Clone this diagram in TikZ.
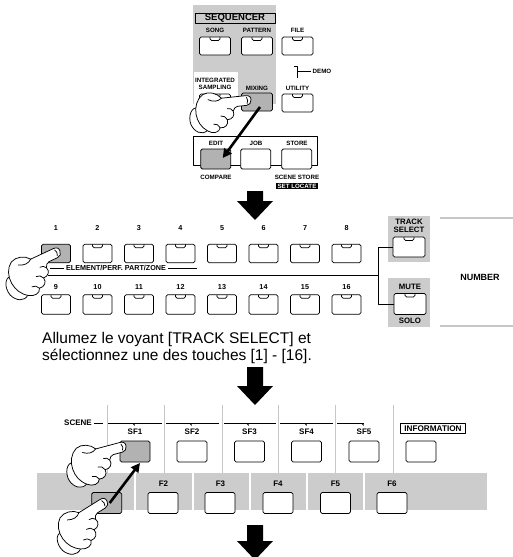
\documentclass[tikz,border=0pt]{standalone}
\usepackage{fontspec}
\setmainfont{Liberation Sans}
\usetikzlibrary{arrows.meta}
\definecolor{panel}{gray}{0.80}
\definecolor{pressed}{gray}{0.70}
\definecolor{rulegray}{gray}{0.78}

\tikzset{
  lbl/.style={font=\bfseries\fontsize{6.2}{7.5}\selectfont, inner sep=0pt, align=center},
  lblm/.style={font=\bfseries\fontsize{7.2}{8}\selectfont, inner sep=0pt, align=center},
  lblb/.style={font=\bfseries\fontsize{8}{8.5}\selectfont, inner sep=0pt, align=center},
  btn/.style={draw, line width=0.8pt, fill=white, rounded corners=1.6pt,
    minimum width=30pt, minimum height=20pt, inner sep=0pt},
  notch/.style={path picture={\draw[line width=0.6pt]
    ([xshift=-5pt]path picture bounding box.north) -- ++(0,-3.5pt) -- ++(10pt,0) -- ++(0,3.5pt);}},
  lit/.style={fill=pressed, path picture={\fill
    ([xshift=-6pt]path picture bounding box.north) rectangle
    ([xshift=6pt,yshift=-4.5pt]path picture bounding box.north);}},
  wire/.style={line width=0.6pt},
  drag/.style={line width=2.6pt, -{Triangle[length=9pt,width=9pt]}},
  handline/.style={line width=0.75pt, line join=round, line cap=round},
  sep/.style={rulegray, line width=1pt},
  hand/.pic={
    % cuff at the wrist
    \draw[handline, fill=white]
      (-44,2) .. controls (-49,0) and (-53,8) .. (-51,15)
      .. controls (-49,21) and (-43,25) .. (-38,21) -- cycle;
    % hand with pointing index finger
    \draw[handline, fill=white]
      (0,0) .. controls (0.4,-2.8) and (-1.5,-4) .. (-4,-4)
      -- (-24,-4)
      .. controls (-27,-8.5) and (-34,-11) .. (-39,-8.5)
      .. controls (-44,-5.5) and (-46.5,1) .. (-46,7)
      .. controls (-45.5,13) and (-43,18) .. (-38,21.5)
      .. controls (-34,24.5) and (-28.5,24) .. (-27.5,20)
      .. controls (-23.5,21) and (-20,18) .. (-21,14)
      .. controls (-17,14.5) and (-14,11) .. (-15.5,7.5)
      .. controls (-14.5,5.5) and (-13.5,4) .. (-11.5,4)
      -- (-4,4)
      .. controls (-1.5,4) and (-0.3,2.3) .. (0,0) -- cycle;
    % thumb and finger creases
    \draw[handline] (-24,-4) .. controls (-27,-1.5) and (-31,-1.5) .. (-35,-4);
    \draw[handline] (-27.5,20) .. controls (-28.5,17.5) and (-30,16.5) .. (-32.5,16.5);
    \draw[handline] (-21,14) .. controls (-22,11.5) and (-23.5,10.5) .. (-26,10.5);
    \draw[handline] (-15.5,7.5) .. controls (-16.5,5.5) and (-18,5) .. (-20,5);
    \draw[handline] (-3.5,-2.5) .. controls (-2.5,-1) and (-2.5,1) .. (-3.5,2.5);
  }
}

\begin{document}
\begin{tikzpicture}[x=1pt,y=-1pt,line join=round]
\useasboundingbox (0,0) rectangle (513,557);
\clip (0,0) rectangle (513,557);

% ---------- sequencer block ----------
\fill[panel] (193,5) rectangle (276,104);
\fill[white] (194,72) rectangle (238,106);
\node[draw, line width=0.7pt, minimum width=80pt, minimum height=10pt, inner sep=0pt,
      font=\bfseries\fontsize{9.5}{10}\selectfont] (seq) at (235,18) {SEQUENCER};

\node[lbl] (lsong) at (215,30) {SONG};
\node[lbl] (lpattern) at (257,30) {PATTERN};
\node[lbl] (lfile) at (297.5,30) {FILE};
\node[btn, notch, minimum width=31pt, minimum height=18pt] (song) at (215,46) {};
\node[btn, notch, minimum width=31pt, minimum height=18pt] (pattern) at (257,46) {};
\node[btn, notch, minimum width=31pt, minimum height=18pt] (file) at (297.5,46) {};

\node[lbl] (linteg) at (215,84) {INTEGRATED\\SAMPLING};
\node[lbl] (lmixing) at (257,88) {MIXING};
\node[lbl] (lutility) at (297.5,88) {UTILITY};
\node[btn, notch, minimum width=31pt, minimum height=18pt] (integ) at (215,103) {};
\node[btn, lit, minimum width=31pt, minimum height=18pt] (mixing) at (257,102) {};
\node[btn, notch, minimum width=31pt, minimum height=18pt] (utility) at (297.5,103) {};

\node[lbl] (ldemo) at (322,71) {DEMO};
\coordinate (demoj) at (297,71);
\draw[wire] (294,66) -- (297,66) -- (297,78);
\draw[wire] (demoj) -- ([xshift=-2pt]ldemo.west);

% ---------- edit / job / store ----------
\draw[line width=0.7pt] (193,136) rectangle (317,165);
\node[lbl] (ledit) at (216,143) {EDIT};
\node[lbl] (ljob) at (256,143) {JOB};
\node[lbl] (lstore) at (297,143) {STORE};
\node[btn, lit] (edit) at (215.7,159) {};
\node[btn] (job) at (255.7,159) {};
\node[btn] (store) at (296.7,159) {};
\node[lbl] (lcompare) at (216,177) {COMPARE};
\node[lbl] (lscstore) at (297,177) {SCENE STORE};
\node[lbl, fill=black, text=white, inner xsep=1.5pt, inner ysep=1.2pt] (lsetloc) at (297,186) {SET LOCATE};

% ---------- track buttons ----------
\node[lblm] (n1) at (56,228) {1};
\node[btn, lit, minimum width=29pt, minimum height=18.5pt] (k1) at (56,253.5) {};
\foreach \i in {2,...,8}{
  \pgfmathsetmacro\bx{56+(\i-1)*41.5}
  \node[lblm] (n\i) at (\bx,228) {\i};
  \node[btn, notch, minimum width=29pt, minimum height=18.5pt] (k\i) at (\bx,253.5) {};
}
\foreach \i in {9,...,16}{
  \pgfmathsetmacro\bx{56+(\i-9)*41.5}
  \node[lblm] (n\i) at (\bx,287) {\i};
  \node[btn, notch, minimum width=29pt, minimum height=19.5pt] (k\i) at (\bx,304.5) {};
}

\node[lblm] (lelem) at (116,268) {ELEMENT/PERF. PART/ZONE};
\draw[wire] ([xshift=-2pt]lelem.west) -- (50,268);
\draw[wire] ([xshift=2pt]lelem.east) -- (197,268);

% track select / mute
\fill[panel] (388,216) rectangle (430,262);
\fill[panel] (388,278) rectangle (430,327);
\node[lblb, font=\bfseries\fontsize{7.8}{8.2}\selectfont] (ltrack) at (409,226) {TRACK\\SELECT};
\node[btn, notch, minimum width=32pt, minimum height=20pt] (tsel) at (409,247) {};
\node[lblb, font=\bfseries\fontsize{7.8}{8.2}\selectfont] (lmute) at (410,287) {MUTE};
\node[btn, notch, minimum width=32pt, minimum height=21pt] (mute) at (410,304) {};
\node[lblb, font=\bfseries\fontsize{7.8}{8.2}\selectfont] (lsolo) at (410,321) {SOLO};

\coordinate (busL) at (48,275);
\coordinate (busR) at (378,275);
\draw[wire] (tsel.west) -- (378,247) |- (mute.west);
\draw[wire] (busL) -- (busR);

\node[lblb, font=\bfseries\fontsize{9}{9}\selectfont] (lnumber) at (480,277) {NUMBER};
\draw[rulegray, line width=2pt] (440,218) -- (513,218);
\draw[rulegray, line width=2pt] (440,326) -- (513,326);

\node[anchor=base west, inner sep=0pt, align=left, font=\fontsize{15.5}{17}\selectfont] (note) at (42,360)
  {Allumez le voyant [TRACK SELECT] et\\s\'electionnez une des touches [1] - [16].};

% ---------- scene / function buttons ----------
\foreach \x in {107,164,222,278,335,393} \draw[sep] (\x,405) -- (\x,473);
\node[lblb] (lscene) at (78,423) {SCENE};
\draw[line width=0.8pt] ([xshift=2pt]lscene.east) -- (103,423);
\foreach \a/\b/\t in {108/162/134, 166/219/191, 224/276/248, 280/333/306, 337/364/363}{
  \draw[line width=0.8pt] (\a,423) -- (\b,423);
  \fill (\t-1.8,423) -- (\t+0.6,423) -- (\t+0.6,426) -- cycle;
}
\foreach \i/\x in {1/135,2/192,3/249.5,4/306.5,5/364}{
  \node[lblb] (lsf\i) at (\x,432) {SF\i};
}
\node[btn, fill=pressed, minimum height=21pt] (sf1) at (135,451.5) {};
\foreach \i/\x in {2/192,3/249.5,4/306.5,5/364}{
  \node[btn, minimum height=21pt] (sf\i) at (\x,451.5) {};
}
\node[lblb, draw, line width=0.7pt, inner xsep=4pt, inner ysep=1.8pt,
      font=\bfseries\fontsize{8.2}{8.5}\selectfont] (linfo) at (433,428.5) {INFORMATION};
\node[btn, minimum height=21pt] (info) at (421,451.5) {};

\fill[panel] (37,473) rectangle (487,510);
\foreach \x in {135,193,250,307,364} \draw[white, line width=1.5pt] (\x,473) -- (\x,510);
\foreach \i/\x in {2/163.5,3/220.5,4/278,5/335.5,6/392}{
  \node[lblb] (lf\i) at (\x,484) {F\i};
}
\node[btn, fill=pressed, minimum height=21pt] (f1) at (106.7,503) {};
\foreach \i/\x in {2/163,3/220,4/278,5/335.5,6/392}{
  \node[btn, minimum height=21pt] (f\i) at (\x,503) {};
}

% ---------- hands ----------
\pic[rotate=6, scale=1.22] at (251,100) {hand};
\pic[rotate=25, scale=1.25] at (60,251) {hand};
\pic[rotate=15, scale=1.25] at (126,446) {hand};
\pic[rotate=32, scale=1.25] at (107,501) {hand};

% ---------- press arrows ----------
\draw[drag] ([xshift=3pt,yshift=-5pt]mixing.center) -- ([xshift=7pt,yshift=1pt]edit.center);
\draw[drag] ([xshift=3pt,yshift=0pt]f1.center) -- ([xshift=5pt,yshift=-11.5pt]sf1.center);

% ---------- step arrows ----------
\fill (247,191) -- (263,191) -- (263,201) -- (273,201) -- (255,220) -- (237,201) -- (247,201) -- cycle;
\fill (247,367) -- (263,367) -- (263,386) -- (273,386) -- (255,405) -- (237,386) -- (247,386) -- cycle;
\fill (247,525) -- (263,525) -- (263,541) -- (273,541) -- (255,560) -- (237,541) -- (247,541) -- cycle;
\end{tikzpicture}
\end{document}
